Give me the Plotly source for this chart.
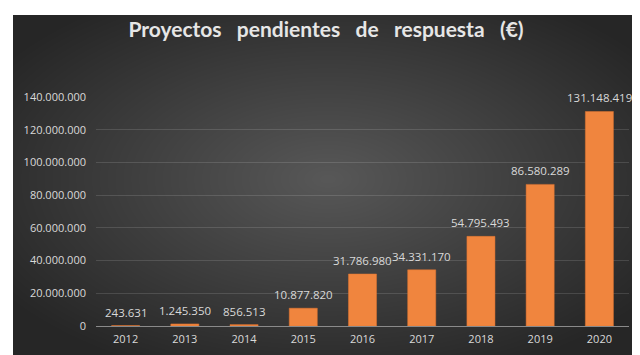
import base64, struct, zlib
import numpy as np
import plotly.graph_objects as go

# ---- data ----
years = ["2012", "2013", "2014", "2015", "2016", "2017", "2018", "2019", "2020"]
values = [243631, 1245350, 856513, 10877820, 31786980, 34331170, 54795493, 86580289, 131148419]
y_ticks = [0, 20000000, 40000000, 60000000, 80000000, 100000000, 120000000, 140000000]
title_words = ["Proyectos", "pendientes", "de", "respuesta", "(€)"]

# ---- radial gradient background (styling image) ----
W, H = 629, 341
def png_uri(arr):
    h, w, _ = arr.shape
    raw = b"".join(b"\x00" + arr[i].tobytes() for i in range(h))
    def chunk(t, d):
        c = struct.pack(">I", len(d)) + t + d
        return c + struct.pack(">I", zlib.crc32(t + d) & 0xffffffff)
    png = b"\x89PNG\r\n\x1a\n" + chunk(b"IHDR", struct.pack(">IIBBBBB", w, h, 8, 2, 0, 0, 0))
    png += chunk(b"IDAT", zlib.compress(raw, 9)) + chunk(b"IEND", b"")
    return "data:image/png;base64," + base64.b64encode(png).decode()

yy, xx = np.mgrid[0:H, 0:W]
dx = (xx - W * 0.5) / (W * 0.5)
dy = (yy - H * 0.48) / (H * 0.5)
t = np.clip(np.sqrt(dx ** 2 + dy ** 2) / 1.25, 0, 1)
c_in, c_out = 88.0, 38.0
g = (c_in + (c_out - c_in) * t).astype(np.uint8)
img = np.stack([g, g, g], axis=-1)
bg_uri = png_uri(img)

# layout geometry (pixels)
L, R, T, B = 88, 19, 89, 37
pw, ph = 640 - L - R, 355 - T - B
px0, py0 = 5, 7  # panel top-left

fig = go.Figure()
fig.add_trace(go.Bar(
    x=years, y=values,
    marker=dict(color="#f0853e", line=dict(color="#e07530", width=0.5)),
    cliponaxis=False,
    hovertemplate="%{x}: %{y:,d}<extra></extra>",
))

# value labels from the data (x = category index on the category axis)
for i, v in enumerate(values):
    fig.add_annotation(x=i, y=v, text=f"{v:,d}".replace(",", "."),
                       showarrow=False, yanchor="bottom", yshift=4,
                       font=dict(family="Open Sans", size=11.5, color="#d9d9d9"))

fig.update_layout(
    width=640, height=355,
    margin=dict(l=L, r=R, t=T, b=B),
    paper_bgcolor="white", plot_bgcolor="rgba(0,0,0,0)",
    separators=",.",
    bargap=0.526,
    showlegend=False,
    images=[dict(source=bg_uri, xref="paper", yref="paper",
                 x=(px0 - L) / pw, y=(T + ph - py0) / ph,
                 sizex=W / pw, sizey=H / ph, sizing="stretch",
                 xanchor="left", yanchor="top", layer="below")],
    title=dict(text="<b>" + "\u00a0\u00a0\u00a0".join(title_words) + "</b>",
               x=318 / 640, xanchor="center", y=1 - 22 / 355, yanchor="middle",
               font=dict(family="Lato", size=21, color="#e6e6e6")),
    xaxis=dict(type="category", range=[-0.5, len(years) - 0.5],
               showline=True, linecolor="#8a8a8a", linewidth=1,
               tickfont=dict(family="Open Sans", size=11, color="#d9d9d9"),
               ticks="", showgrid=False, ticklabelstandoff=3),
    yaxis=dict(range=[0, 140000000], tickvals=y_ticks, tickformat=",d",
               showgrid=True, gridcolor="rgba(255,255,255,0.13)", gridwidth=1,
               zeroline=False, ticks="", ticklabelstandoff=9,
               tickfont=dict(family="Open Sans", size=11, color="#d9d9d9")),
)

fig.write_html("out.html")
